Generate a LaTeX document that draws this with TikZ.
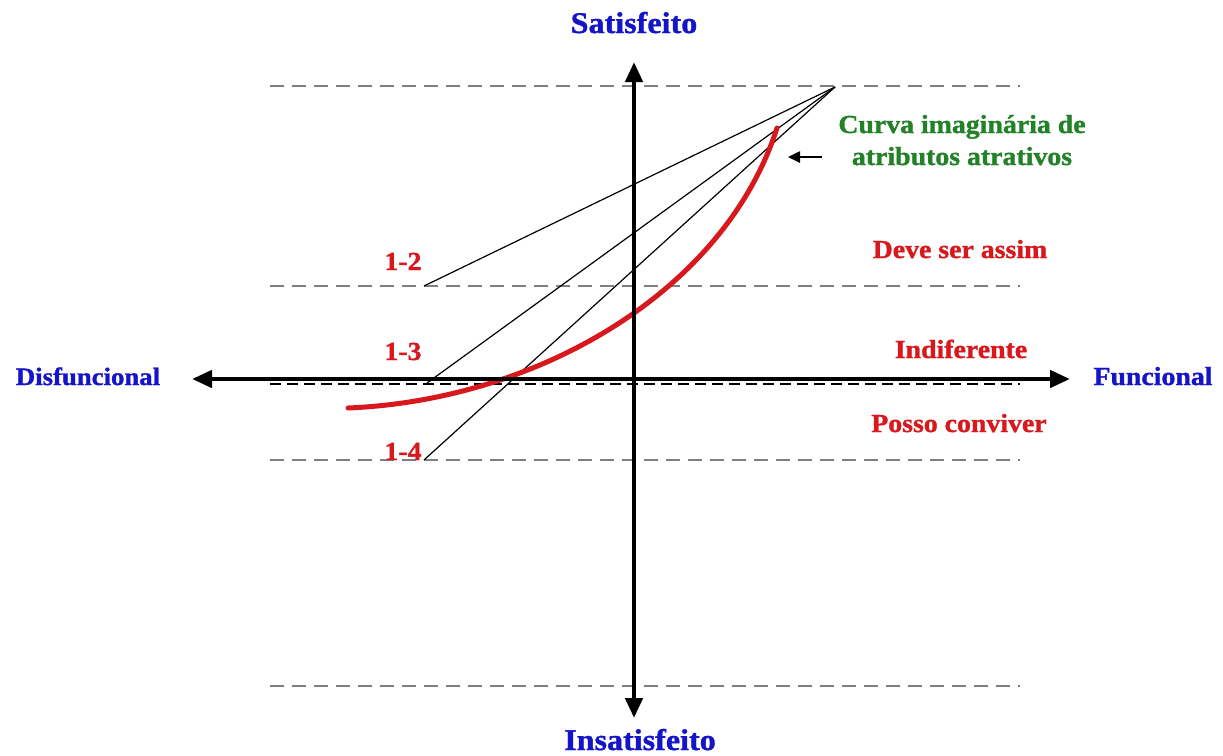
\documentclass[tikz,border=0pt]{standalone}
\usepackage{fontspec}
\setmainfont[FakeStretch=1.07,BoldFeatures={FakeBold=1.2}]{Liberation Serif}
\usetikzlibrary{arrows.meta}
\definecolor{lblblue}{RGB}{20,20,200}
\definecolor{lblred}{RGB}{215,25,30}
\definecolor{lblgreen}{RGB}{35,130,40}
\definecolor{dashgray}{RGB}{128,128,128}
\begin{document}
\begin{tikzpicture}[x=1pt,y=-1pt,
  lbl/.style={anchor=base,inner sep=0pt,font=\bfseries\fontsize{26}{30}\selectfont},
  axislbl/.style={lbl,text=lblblue},
  zonelbl/.style={lbl,text=lblred},
  level/.style={dashgray,line width=2.5pt,dash pattern=on 14pt off 8pt},
  midlevel/.style={black,line width=1.6pt,dash pattern=on 11pt off 6pt},
  axis/.style={line width=4.5pt,-{Triangle[length=20pt,width=17pt]}},
  ray/.style={black,line width=1.2pt},
  curve/.style={lblred,line width=5pt,line cap=round}]
\useasboundingbox (0,0) rectangle (1223,755);
% coordinates
\coordinate (O) at (634,379);
\coordinate (apex) at (835,87);
\coordinate (e12) at (424,286);
\coordinate (e13) at (427,383);
\coordinate (e14) at (424,460);
\coordinate (cs) at (348,408);
\coordinate (ce) at (777,128);
% dashed levels
\draw[level] (270,86) -- (1020,86);
\draw[level] (270,286) -- (1020,286);
\draw[midlevel] (270,384) -- (1020,384);
\draw[level] (270,460) -- (1020,460);
\draw[level] (270,686) -- (1020,686);
% rays
\draw[ray] (apex) -- (e12);
\draw[ray] (apex) -- (e13);
\draw[ray] (apex) -- (e14);
% red curve
\draw[curve] (cs) .. controls (540,400) and (725,290) .. (ce);
% axes
\coordinate (xl) at (192,379);
\coordinate (xr) at (1070,379);
\coordinate (yt) at (634,62);
\coordinate (yb) at (634,718);
\draw[axis] (O) -- (xr);
\draw[axis] (O) -- (xl);
\draw[axis] (O) -- (yt);
\draw[axis] (O) -- (yb);
% labels
\node[axislbl,font=\bfseries\fontsize{30}{34}\selectfont] (sat) at (634,33) {Satisfeito};
\node[axislbl,font=\bfseries\fontsize{30}{34}\selectfont] (insat) at (640,750) {Insatisfeito};
\node[axislbl,font=\bfseries\fontsize{25}{30}\selectfont] (disf) at (88,385) {Disfuncional};
\node[axislbl] (func) at (1153,385) {Funcional};
\node[zonelbl] (deve) at (960,258) {Deve ser assim};
\node[zonelbl] (indif) at (961,358) {Indiferente};
\node[zonelbl] (posso) at (959,432) {Posso conviver};
\node[zonelbl] (l12) at (403,270) {1-2};
\node[zonelbl] (l13) at (403,360) {1-3};
\node[zonelbl] (l14) at (403,460) {1-4};
\node[lbl,text=lblgreen] (cur1) at (962,133) {Curva imaginária de};
\node[lbl,text=lblgreen] (cur2) at (962,165) {atributos atrativos};
\coordinate (pt) at (788,157);
\coordinate (pa) at (822,157);
\draw[line width=2.5pt,-{Triangle[length=12pt,width=11pt]}] (pa) -- (pt);
\end{tikzpicture}
\end{document}
